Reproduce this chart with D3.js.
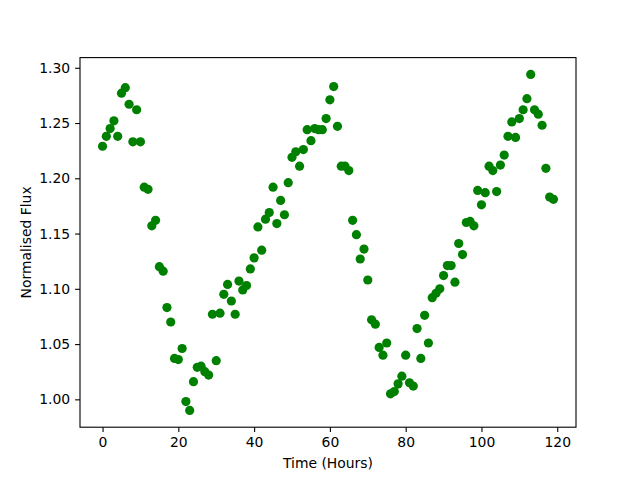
<!DOCTYPE html>
<html>
<head>
<meta charset="utf-8">
<script src="https://cdn.jsdelivr.net/npm/d3@7"></script>
<style>
  body { margin: 0; background: #fff; }
  svg { font-family: "DejaVu Sans", sans-serif; }
</style>
</head>
<body>
<div id="chart"></div>
<script>
// hours 0..119, flux
const hours = d3.range(0, 120);
const flux = [
  1.229, 1.238, 1.245, 1.252, 1.238, 1.277, 1.282, 1.267, 1.233, 1.262,
  1.233, 1.192, 1.190, 1.157, 1.162, 1.120, 1.116, 1.083, 1.070, 1.037,
  1.036, 1.046, 0.998, 0.990, 1.016, 1.029, 1.030, 1.025, 1.022, 1.077,
  1.035, 1.078, 1.095, 1.104, 1.089, 1.077, 1.107, 1.099, 1.103, 1.118,
  1.128, 1.156, 1.135, 1.163, 1.169, 1.192, 1.159, 1.180, 1.167, 1.196,
  1.219, 1.224, 1.211, 1.226, 1.244, 1.234, 1.245, 1.244, 1.244, 1.254,
  1.271, 1.283, 1.247, 1.211, 1.211, 1.207, 1.162, 1.149, 1.127, 1.136,
  1.108, 1.072, 1.068, 1.047, 1.040, 1.051, 1.005, 1.007, 1.014, 1.021,
  1.040, 1.015, 1.012, 1.064, 1.037, 1.076, 1.051, 1.092, 1.096, 1.100,
  1.112, 1.121, 1.121, 1.106, 1.141, 1.131, 1.160, 1.161, 1.157, 1.189,
  1.176, 1.187, 1.211, 1.207, 1.188, 1.212, 1.221, 1.238, 1.251, 1.237,
  1.254, 1.262, 1.272, 1.294, 1.262, 1.258, 1.248, 1.209, 1.183, 1.181
];
const xTicks = [0, 20, 40, 60, 80, 100, 120];
const yTicks = [1.00, 1.05, 1.10, 1.15, 1.20, 1.25, 1.30];

const width = 640, height = 480;
const margin = { top: 57.6, right: 64, bottom: 52.8, left: 80 };

const svg = d3.select("#chart").append("svg")
    .attr("width", width)
    .attr("height", height);

// matplotlib style 5% padding
function padded(ext) {
    const p = (ext[1] - ext[0]) * 0.05;
    return [ext[0] - p, ext[1] + p];
}

const xScale = d3.scaleLinear()
    .domain(padded(d3.extent(hours)))
    .range([margin.left, width - margin.right]);
const yScale = d3.scaleLinear()
    .domain(padded(d3.extent(flux)))
    .range([height - margin.bottom, margin.top]);

const xAxis = d3.axisBottom(xScale).tickValues(xTicks).tickSize(4.9).tickPadding(4.9)
    .tickFormat(d3.format("d"));
const yAxis = d3.axisLeft(yScale).tickValues(yTicks).tickSize(4.9).tickPadding(4.9)
    .tickFormat(d3.format(".2f"));

const gx = svg.append("g")
    .attr("transform", `translate(0,${height - margin.bottom})`)
    .call(xAxis);
const gy = svg.append("g")
    .attr("transform", `translate(${margin.left},0)`)
    .call(yAxis);

[gx, gy].forEach(g => {
    g.select(".domain").remove();
    g.selectAll("line").attr("stroke", "#000").attr("stroke-width", 1.1);
    g.selectAll("text").attr("fill", "#000").style("font-size", "13.9px")
        .style("font-family", "DejaVu Sans");
});

// points
svg.append("g")
    .selectAll("circle")
    .data(hours)
    .join("circle")
    .attr("cx", (d, i) => xScale(hours[i]))
    .attr("cy", (d, i) => yScale(flux[i]))
    .attr("r", 4.6)
    .attr("fill", "green");

// frame
svg.append("rect")
    .attr("x", margin.left)
    .attr("y", margin.top)
    .attr("width", width - margin.left - margin.right)
    .attr("height", height - margin.top - margin.bottom)
    .attr("fill", "none")
    .attr("stroke", "#000")
    .attr("stroke-width", 1.1);

svg.append("text")
    .attr("x", (margin.left + width - margin.right) / 2)
    .attr("y", 468)
    .attr("text-anchor", "middle")
    .style("font-size", "13.9px")
    .text("Time (Hours)");

svg.append("text")
    .attr("transform", `translate(31,${(margin.top + height - margin.bottom) / 2}) rotate(-90)`)
    .attr("text-anchor", "middle")
    .style("font-size", "13.9px")
    .text("Normalised Flux");
</script>
</body>
</html>
